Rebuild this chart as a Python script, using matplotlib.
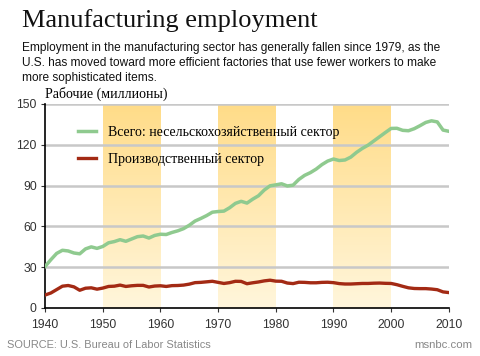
import numpy as np
import matplotlib
matplotlib.use("Agg")
import matplotlib.pyplot as plt
from matplotlib.colors import LinearSegmentedColormap

years = np.arange(1940, 2011)
total = [30.5, 35.5, 40.1, 42.4, 41.9, 40.4, 39.8, 43.4, 44.9, 43.8,
         45.2, 47.9, 48.8, 50.2, 49.0, 50.7, 52.4, 52.9, 51.4, 53.3,
         54.2, 54.0, 55.5, 56.7, 58.3, 60.8, 63.9, 65.8, 67.9, 70.4,
         70.9, 71.2, 73.7, 76.9, 78.4, 77.1, 80.0, 82.5, 86.7, 89.8,
         90.5, 91.3, 89.7, 90.3, 94.5, 97.5, 99.5, 102.1, 105.4, 108.0,
         109.5, 108.4, 108.8, 110.9, 114.4, 117.3, 119.7, 122.8, 125.9, 129.0,
         132.0, 132.1, 130.6, 130.3, 131.8, 134.0, 136.4, 137.6, 136.8, 130.8,
         129.9]
manuf = [9.5, 11.0, 13.5, 16.0, 16.5, 15.5, 13.0, 14.5, 14.8, 13.8,
         14.6, 15.8, 16.0, 16.8, 15.8, 16.3, 16.6, 16.6, 15.4, 16.1,
         16.3, 15.8, 16.4, 16.5, 16.8, 17.5, 18.6, 18.8, 19.2, 19.6,
         18.8, 18.0, 18.6, 19.6, 19.5, 17.8, 18.5, 19.1, 19.9, 20.4,
         19.7, 19.6, 18.3, 17.9, 18.9, 18.8, 18.5, 18.5, 18.8, 18.9,
         18.6, 17.9, 17.6, 17.6, 17.8, 18.0, 18.0, 18.2, 18.3, 18.1,
         18.0, 17.1, 15.9, 14.8, 14.3, 14.2, 14.2, 13.9, 13.4, 11.8,
         11.3]
decades = [(1950, 1960), (1970, 1980), (1990, 2000)]
yticks = [0, 30, 60, 90, 120, 150]
xticks = [1940, 1950, 1960, 1970, 1980, 1990, 2000, 2010]

fig = plt.figure(figsize=(4.8, 3.56), dpi=100)
ax = fig.add_axes([0.094, 0.135, 0.841, 0.573])

# gradient bands behind the decades
cmap = LinearSegmentedColormap.from_list("band", ["#fff6dc", "#ffdc88"])
grad = np.linspace(0, 1, 256).reshape(-1, 1)
for a, b in decades:
    ax.imshow(grad, cmap=cmap, aspect="auto", origin="lower",
              extent=(a, b, 0, 150), zorder=0)

for yv in yticks[1:]:
    ax.axhline(yv, color="#c8c8c8", linewidth=1.8, zorder=1)

ax.plot(years, total, color="#8fca8f", linewidth=2.5, zorder=3,
        label="Всего: несельскохозяйственный сектор")
ax.plot(years, manuf, color="#a32a14", linewidth=2.4, zorder=3,
        label="Производственный сектор")

ax.set_xlim(1940, 2010)
ax.set_ylim(0, 150)
ax.set_xticks(xticks)
ax.set_yticks(yticks)
for s in ("top", "right"):
    ax.spines[s].set_visible(False)
for s in ("left", "bottom"):
    ax.spines[s].set_color("black")
    ax.spines[s].set_linewidth(1.2)
ax.tick_params(axis="both", length=3, colors="#333333", labelsize=8.8,
               direction="out", pad=3)
ax.tick_params(axis="x", pad=5)
for t in ax.get_xticklabels() + ax.get_yticklabels():
    t.set_family("Liberation Sans")

leg = ax.legend(loc="upper left", bbox_to_anchor=(0.05, 0.955), frameon=False,
                prop={"family": "Liberation Serif", "size": 10},
                handlelength=1.3, handletextpad=0.9, labelspacing=1.05)

fig.text(0.046, 0.975, "Manufacturing employment", family="Liberation Serif",
         fontsize=19, va="top", color="#111111")
fig.text(0.046, 0.883,
         "Employment in the manufacturing sector has generally fallen since 1979, as the\n"
         "U.S. has moved toward more efficient factories that use fewer workers to make\n"
         "more sophisticated items.",
         family="Liberation Sans", fontsize=8.6, va="top", linespacing=1.35,
         color="#111111")
fig.text(0.094, 0.717, "Рабочие (миллионы)", family="Liberation Serif",
         fontsize=10, va="bottom")
fig.text(0.015, 0.03, "SOURCE: U.S. Bureau of Labor Statistics",
         family="Liberation Sans", fontsize=7.9, color="#888888", va="center")
fig.text(0.985, 0.03, "msnbc.com", family="Liberation Sans",
         fontsize=8.2, color="#888888", va="center", ha="right")

fig.savefig("out.png", dpi=100)
